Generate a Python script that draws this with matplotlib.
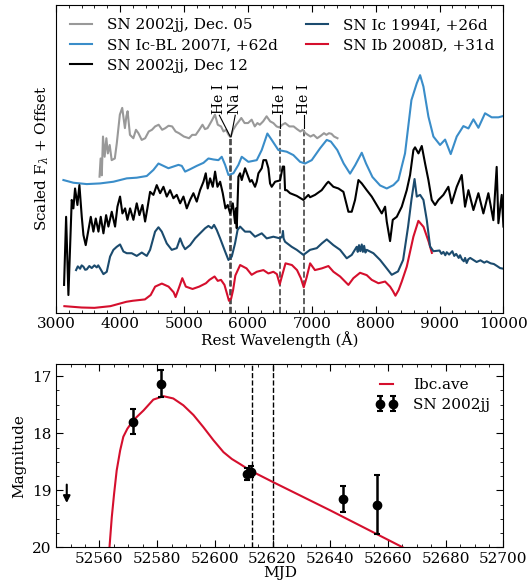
import matplotlib
matplotlib.use('Agg')
import matplotlib.pyplot as plt
from matplotlib.ticker import MultipleLocator, NullLocator

plt.rcParams['font.family'] = 'serif'
plt.rcParams['font.serif'] = ['DejaVu Serif']
plt.rcParams['mathtext.fontset'] = 'dejavuserif'
plt.rcParams['font.size'] = 11

# ---- spectra (rest wavelength in A, scaled flux + offset) ----
wave_dec05 = [3680, 3697, 3715, 3734, 3760, 3787, 3810, 3839, 3870, 3919, 3950, 3998,
              4035, 4077, 4100, 4119, 4156, 4209, 4250, 4288, 4340, 4394, 4450, 4500,
              4550, 4605, 4660, 4710, 4760, 4816, 4870, 4922, 5000, 5080, 5130, 5185,
              5240, 5291, 5330, 5370, 5430, 5486, 5530, 5581, 5620, 5660, 5700, 5729,
              5770, 5819, 5860, 5898, 5950, 6004, 6060, 6109, 6150, 6188, 6240, 6294,
              6350, 6400, 6450, 6495, 6540, 6585, 6650, 6717, 6770, 6822, 6860, 6902,
              6940, 6981, 7030, 7086, 7140, 7192, 7230, 7270, 7310, 7350, 7403]
flux_dec05 = [4.03, 4.57, 4.07, 5.22, 4.62, 5.17, 4.72, 4.97, 4.52, 4.57, 5.02, 5.87,
              6.07, 5.47, 5.82, 5.97, 5.27, 5.17, 5.42, 5.32, 5.12, 5.17, 5.37, 5.42,
              5.52, 5.57, 5.42, 5.47, 5.54, 5.52, 5.37, 5.32, 5.22, 5.17, 5.27, 5.27,
              5.42, 5.57, 5.44, 5.47, 5.67, 5.87, 5.57, 5.52, 5.37, 5.42, 5.27, 5.20,
              5.42, 5.57, 5.67, 5.77, 5.62, 5.62, 5.72, 5.52, 5.62, 5.57, 5.67, 5.82,
              5.67, 5.62, 5.52, 5.49, 5.57, 5.62, 5.52, 5.52, 5.44, 5.37, 5.42, 5.32,
              5.27, 5.22, 5.27, 5.17, 5.24, 5.32, 5.27, 5.32, 5.30, 5.22, 5.17]

wave_07i = [3115, 3271, 3480, 3689, 3897, 4106, 4262, 4419, 4523, 4602, 4680, 4758,
            4836, 4915, 4967, 5019, 5097, 5201, 5306, 5384, 5462, 5540, 5592, 5645,
            5697, 5774, 5853, 5905, 6009, 6140, 6218, 6306, 6374, 6478, 6609, 6713,
            6818, 6896, 7000, 7130, 7235, 7300, 7400, 7500, 7600, 7680, 7783, 7850,
            7950, 8070, 8174, 8278, 8356, 8460, 8560, 8644, 8696, 8748, 8826, 8904,
            9008, 9087, 9175, 9269, 9373, 9452, 9530, 9608, 9712, 9816, 9921, 10000]
flux_07i = [3.93, 3.85, 3.81, 3.83, 3.88, 3.98, 4.00, 4.05, 4.23, 4.42, 4.35, 4.28,
            4.33, 4.38, 4.35, 4.18, 4.25, 4.35, 4.44, 4.57, 4.54, 4.52, 4.62, 4.38,
            4.08, 4.13, 4.38, 4.62, 4.47, 4.52, 4.82, 5.31, 5.12, 4.82, 4.77, 4.67,
            4.47, 4.42, 4.52, 4.87, 5.12, 5.07, 4.82, 4.42, 4.12, 4.37, 4.74, 4.42,
            4.02, 3.77, 3.68, 3.78, 3.93, 4.72, 6.30, 6.80, 7.04, 6.70, 5.81, 5.22,
            4.97, 5.13, 4.70, 5.22, 5.53, 5.46, 5.73, 5.48, 5.91, 5.79, 5.79, 5.83]

wave_dec12 = [3125, 3157, 3193, 3230, 3245, 3271, 3297, 3334, 3365, 3402, 3428, 3464,
              3506, 3543, 3584, 3621, 3663, 3699, 3741, 3783, 3819, 3871, 3923, 3960,
              4001, 4038, 4080, 4116, 4158, 4210, 4262, 4304, 4351, 4393, 4429, 4471,
              4523, 4575, 4628, 4680, 4732, 4784, 4836, 4888, 4941, 4993, 5045, 5097,
              5149, 5201, 5253, 5306, 5342, 5373, 5410, 5452, 5488, 5525, 5567, 5608,
              5650, 5686, 5723, 5765, 5801, 5815, 5827, 5853, 5879, 5905, 5957, 6035,
              6062, 6113, 6140, 6166, 6218, 6244, 6286, 6322, 6348, 6374, 6427, 6505,
              6547, 6568, 6583, 6609, 6661, 6766, 6870, 6948, 6974, 7052, 7156, 7235,
              7261, 7339, 7418, 7496, 7574, 7626, 7678, 7731, 7783, 7861, 7939, 8018,
              8096, 8148, 8174, 8226, 8268, 8331, 8409, 8487, 8539, 8591, 8617, 8670,
              8722, 8774, 8826, 8878, 8930, 8982, 9060, 9138, 9190, 9269, 9347, 9399,
              9452, 9530, 9608, 9686, 9764, 9842, 9894, 9921, 9973, 10000]
flux_dec12 = [0.82, 2.84, 0.52, 2.55, 3.34, 3.09, 3.68, 3.19, 3.78, 2.84, 2.30, 2.00,
              2.45, 2.84, 2.40, 2.79, 2.40, 2.84, 2.35, 2.89, 2.55, 2.99, 2.55, 3.14,
              3.44, 2.94, 3.09, 2.75, 3.09, 2.75, 3.24, 2.89, 3.19, 2.70, 3.09, 3.58,
              3.49, 3.78, 3.54, 3.73, 3.44, 3.63, 3.39, 3.49, 3.24, 3.44, 3.09, 3.34,
              3.54, 3.29, 3.63, 3.88, 4.13, 3.68, 3.98, 3.73, 4.18, 3.73, 3.88, 3.54,
              3.09, 3.19, 2.94, 3.24, 2.65, 3.09, 2.50, 4.03, 4.13, 3.93, 4.28, 3.88,
              3.93, 3.73, 3.88, 4.13, 4.28, 4.52, 4.52, 4.28, 3.83, 3.73, 3.88, 3.92,
              4.33, 4.33, 3.63, 3.63, 3.54, 3.46, 3.34, 3.49, 3.42, 3.49, 3.63, 3.83,
              3.88, 3.73, 3.68, 3.58, 2.99, 2.99, 3.34, 3.93, 3.83, 3.63, 3.44, 3.19,
              2.94, 3.14, 2.70, 2.12, 2.75, 2.84, 3.14, 3.63, 4.08, 4.82, 4.90, 4.72,
              4.94, 4.42, 3.93, 3.34, 3.19, 3.34, 3.49, 3.73, 3.24, 3.73, 4.08, 3.14,
              3.63, 3.04, 3.54, 2.94, 3.54, 2.74, 4.32, 2.65, 3.49, 2.55]

wave_94i = [3313, 3340, 3376, 3400, 3428, 3455, 3480, 3520, 3558, 3600, 3636, 3660,
            3689, 3741, 3793, 3845, 3897, 3949, 4001, 4054, 4106, 4184, 4262, 4341,
            4419, 4471, 4549, 4602, 4654, 4732, 4810, 4888, 4941, 4982, 5019, 5097,
            5175, 5253, 5332, 5384, 5436, 5472, 5514, 5567, 5645, 5697, 5749, 5800,
            5840, 5879, 5957, 6035, 6113, 6218, 6296, 6400, 6505, 6540, 6550, 6560,
            6583, 6687, 6766, 6870, 6974, 7079, 7157, 7235, 7339, 7444, 7548, 7626,
            7704, 7720, 7740, 7760, 7783, 7800, 7820, 7840, 7861, 7965, 8070, 8174,
            8252, 8350, 8430, 8508, 8560, 8609, 8644, 8696, 8748, 8800, 8852, 8904,
            9000, 9030, 9060, 9090, 9113, 9150, 9200, 9230, 9260, 9300, 9321, 9350,
            9380, 9400, 9425, 9450, 9480, 9530, 9580, 9640, 9700, 9738, 9800, 9850,
            9900, 9947, 10000]
flux_94i = [1.26, 1.37, 1.30, 1.40, 1.36, 1.27, 1.28, 1.38, 1.32, 1.40, 1.34, 1.40,
            1.31, 1.14, 1.21, 1.66, 1.86, 1.95, 2.02, 1.81, 1.76, 1.76, 1.68, 1.78,
            1.68, 1.86, 2.40, 2.53, 2.40, 2.05, 1.86, 1.91, 2.20, 2.00, 1.88, 2.00,
            2.20, 2.35, 2.50, 2.57, 2.50, 2.60, 2.45, 2.20, 1.81, 1.56, 1.66, 2.05,
            2.45, 2.55, 2.40, 2.40, 2.25, 2.35, 2.20, 2.25, 2.20, 2.27, 2.42, 2.20,
            2.10, 1.95, 1.86, 1.71, 1.86, 1.91, 2.05, 2.17, 2.00, 1.86, 1.61, 1.71,
            1.95, 1.80, 2.00, 1.82, 2.02, 1.80, 1.98, 1.78, 1.86, 1.76, 1.56, 1.31,
            1.12, 1.22, 1.56, 2.55, 3.34, 3.96, 3.44, 3.49, 3.34, 2.75, 1.96, 1.82,
            1.84, 1.74, 1.80, 1.70, 1.79, 1.72, 1.82, 1.68, 1.74, 1.62, 1.70, 1.58,
            1.52, 1.62, 1.47, 1.58, 1.62, 1.56, 1.50, 1.55, 1.48, 1.52, 1.46, 1.44,
            1.38, 1.32, 1.30]

wave_08d = [3130, 3400, 3600, 3850, 4100, 4200, 4390, 4480, 4550, 4655, 4760, 4840,
            4870, 4920, 4975, 5030, 5135, 5240, 5345, 5400, 5480, 5530, 5580, 5635,
            5680, 5705, 5740, 5770, 5805, 5880, 5980, 6060, 6140, 6244, 6322, 6400,
            6455, 6500, 6540, 6590, 6690, 6770, 6830, 6875, 6920, 6975, 7050, 7157,
            7261, 7340, 7444, 7574, 7652, 7756, 7861, 7939, 8044, 8148, 8226, 8270,
            8310, 8360, 8409, 8487, 8591, 8669, 8750, 8830, 8880]
flux_08d = [0.19, 0.15, 0.14, 0.19, 0.32, 0.35, 0.39, 0.52, 0.77, 0.86, 0.77, 0.60,
            0.46, 0.72, 1.02, 0.77, 0.70, 0.77, 0.87, 0.97, 1.07, 0.94, 0.97, 0.82,
            0.52, 0.35, 0.42, 0.67, 1.10, 1.41, 1.31, 1.12, 1.21, 1.26, 1.16, 1.21,
            1.14, 0.84, 1.12, 1.46, 1.41, 1.26, 1.02, 0.75, 1.04, 1.46, 1.26, 1.31,
            1.38, 1.21, 1.07, 0.82, 1.02, 1.18, 1.11, 0.97, 0.87, 0.92, 0.77, 0.64,
            0.50, 0.67, 0.92, 1.36, 2.25, 2.72, 2.54, 2.10, 1.77]

# line identifications, blueshifted rest wavelengths
line_names = ['He I', 'Na I', 'He I', 'He I']
line_rest = [5876, 5890, 6678, 7065]
line_vel = 7700.0  # km/s

# ---- light curve ----
obs_mjd = [52571.6, 52581.4, 52611.3, 52612.5, 52644.3, 52656.2]
obs_mag = [17.80, 17.13, 18.71, 18.67, 19.15, 19.25]
obs_err = [0.22, 0.24, 0.10, 0.10, 0.22, 0.52]
lim_mjd = 52548.7
lim_mag = 18.85

tmpl_mjd = [52563.5, 52564.3, 52565.1, 52566.0, 52567.2, 52568.3, 52569.7, 52571.8,
            52575.3, 52578.7, 52582.2, 52585.6, 52589.1, 52592.6, 52596.0, 52599.5,
            52603.0, 52605.9, 52608.8, 52612.2, 52620, 52640, 52666]
tmpl_mag = [20.0, 19.47, 19.06, 18.65, 18.30, 18.06, 17.92, 17.77,
            17.60, 17.41, 17.35, 17.39, 17.51, 17.68, 17.89, 18.12,
            18.33, 18.45, 18.54, 18.65, 18.85, 19.35, 20.02]

spec_dates = [52613, 52620]

c_gray = '#999999'
c_blue = '#3a8dc9'
c_black = 'black'
c_dark = '#1b4b6e'
c_red = '#d50f2d'

fig = plt.figure(figsize=(5.29, 5.86), dpi=100)
ax1 = fig.add_axes([0.106, 0.4666, 0.8457, 0.5254])
ax2 = fig.add_axes([0.106, 0.0657, 0.8457, 0.3128])

ax1.plot(wave_dec05, flux_dec05, color=c_gray, lw=1.5, label='SN 2002jj, Dec. 05')
ax1.plot(wave_07i, flux_07i, color=c_blue, lw=1.5, label='SN Ic-BL 2007I, +62d')
ax1.plot(wave_dec12, flux_dec12, color=c_black, lw=1.5, label='SN 2002jj, Dec 12')
ax1.plot(wave_08d, flux_08d, color=c_red, lw=1.5, label='SN Ib 2008D, +31d')
ax1.plot(wave_94i, flux_94i, color=c_dark, lw=1.5, label='SN Ic 1994I, +26d')

# markers for line ids
shift = 1 - line_vel / 299792.458
pos = [w * shift for w in line_rest]
txt_x = [5555, 5803, pos[2], pos[3]]
for i in range(4):
    if i < 2:
        top = 5.22
    else:
        top = 5.47
    ax1.plot([pos[i], pos[i]], [0, top], ls='--', color='#444444', lw=1.2, zorder=1)
    ax1.plot([txt_x[i], pos[i]], [5.85, top], color='k', lw=0.8)
    ax1.text(txt_x[i], 5.88, line_names[i], rotation=90, ha='center', va='bottom',
             fontsize=10)

ax1.set_xlim(3000, 10000)
ax1.set_ylim(0, 9.13)
ax1.xaxis.set_major_locator(MultipleLocator(1000))
ax1.xaxis.set_minor_locator(MultipleLocator(200))
ax1.yaxis.set_major_locator(NullLocator())
ax1.tick_params(which='both', direction='in', top=True, right=True)
ax1.tick_params(which='major', length=5)
ax1.tick_params(which='minor', length=2.5)
ax1.set_xlabel(u'Rest Wavelength (\u00c5)', labelpad=0)
ax1.set_ylabel(r'Scaled F$_\lambda$ + Offset')

h, l = ax1.get_legend_handles_labels()
order = [0, 1, 2, 4, 3]
ax1.legend([h[k] for k in order], [l[k] for k in order], ncol=2, loc='upper left',
           frameon=False, handlelength=1.45, handletextpad=1.0, columnspacing=1.8,
           labelspacing=0.4)

# light curve
ax2.plot(tmpl_mjd, tmpl_mag, color=c_red, lw=1.5, label='Ibc.ave')
ax2.errorbar(obs_mjd, obs_mag, yerr=obs_err, fmt='o', color='k', ms=6, elinewidth=1.8,
             capsize=2.5, capthick=1.5, label='SN 2002jj')
ax2.annotate('', xy=(lim_mjd, lim_mag + 0.42), xytext=(lim_mjd, lim_mag),
             arrowprops=dict(arrowstyle='-|>', color='k', lw=1.5, mutation_scale=10))
for d in spec_dates:
    ax2.axvline(d, color='k', ls='--', lw=1)

ax2.set_xlim(52545, 52700)
ax2.set_ylim(20, 16.79)
ax2.xaxis.set_major_locator(MultipleLocator(20))
ax2.xaxis.set_minor_locator(MultipleLocator(5))
ax2.yaxis.set_major_locator(MultipleLocator(1))
ax2.yaxis.set_minor_locator(MultipleLocator(0.25))
ax2.tick_params(which='both', direction='in', top=True, right=True)
ax2.tick_params(which='major', length=5)
ax2.tick_params(which='minor', length=2.5)
ax2.set_xlabel('MJD', labelpad=0)
ax2.set_ylabel('Magnitude')
ax2.legend(loc='upper right', frameon=False, numpoints=2, handlelength=1.45,
           handletextpad=1.0, labelspacing=0.4)

fig.savefig('out.png', dpi=100)
